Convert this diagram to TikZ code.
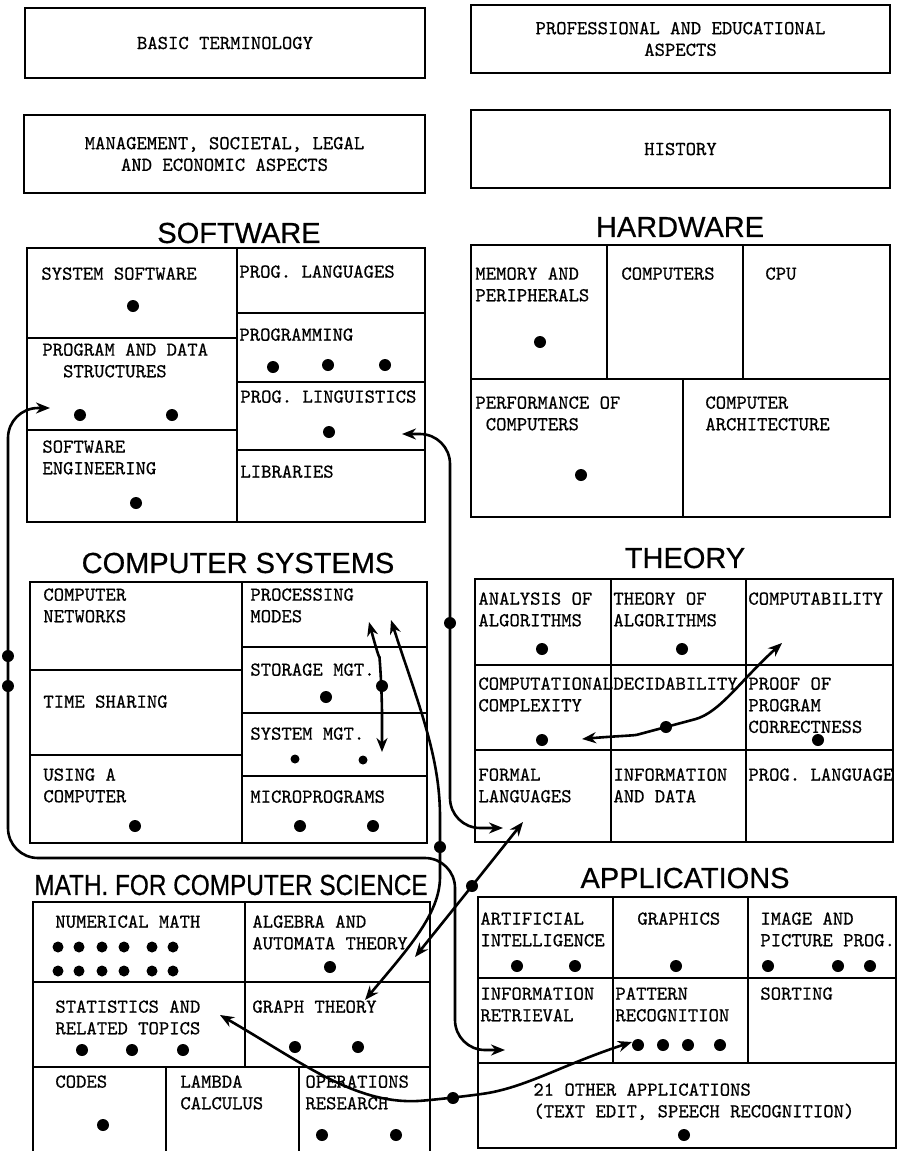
\documentclass[tikz,border=0pt]{standalone}
\usepackage{fontspec}
\usetikzlibrary{arrows.meta}
\setmonofont{Latin Modern Mono}[FakeBold=0.6]
\newfontfamily\headfont{Liberation Sans}[FakeBold=0.6]
\newfontfamily\headnarrow{Liberation Sans}[FakeBold=0.6,FakeStretch=0.84]

\begin{document}
\begin{tikzpicture}[
	x = 0.5pt, y = 0.5pt, % one unit is one pixel of the scan
	> = {Stealth[length=7pt, width=5.5pt]}, % arrow head style
	frame/.style={line width=1.1pt},
	txt/.style={anchor=north west, inner sep=0pt, align=left, font=\ttfamily\fontsize{9.86}{10.8}\selectfont},
	head/.style={inner sep=0pt, font=\headfont\fontsize{14.5}{17}\selectfont},
	topbox/.style={draw, line width=1.1pt, inner sep=0pt, align=center, font=\ttfamily\fontsize{9.86}{10.8}\selectfont},
	link/.style={<->, line width=1.3pt, rounded corners=15pt},
	]
	\useasboundingbox (0,0) rectangle (902,-1151);

	% Boxes on top
	\node[topbox, minimum width=200pt,   minimum height=35pt] (basic) at (225,-43)    {BASIC TERMINOLOGY};
	\node[topbox, minimum width=209.5pt, minimum height=34pt] (prof)  at (680.5,-39)  {PROFESSIONAL AND EDUCATIONAL\\ASPECTS};
	\node[topbox, minimum width=200.5pt, minimum height=39pt] (mgmt)  at (224.5,-154) {MANAGEMENT, SOCIETAL, LEGAL\\AND ECONOMIC ASPECTS};
	\node[topbox, minimum width=209.5pt, minimum height=39pt] (hist)  at (680.5,-149) {HISTORY};

	% Titles
	\node[head] (tsw)  at (239,-233) {SOFTWARE};
	\node[head] (thw)  at (680,-227) {HARDWARE};
	\node[head] (tcs)  at (238,-563) {COMPUTER SYSTEMS};
	\node[head] (tth)  at (685,-558) {THEORY};
	\node[head, font=\headnarrow\fontsize{14.5}{17}\selectfont] (tmath) at (231,-885) {MATH. FOR COMPUTER SCIENCE};
	\node[head] (tapp) at (685,-878) {APPLICATIONS};

	% Grids
	\draw[frame] (27,-248) rectangle (425,-522)
		(237,-248) -- (237,-522)
		(27,-338) -- (237,-338) (27,-430) -- (237,-430)
		(237,-313) -- (425,-313) (237,-382) -- (425,-382) (237,-450) -- (425,-450);
	\draw[frame] (471,-245) rectangle (890,-517)
		(471,-379) -- (890,-379)
		(607,-245) -- (607,-379) (743,-245) -- (743,-379) (683,-379) -- (683,-517);
	\draw[frame] (30,-582) rectangle (427,-843)
		(242,-582) -- (242,-843)
		(30,-670) -- (242,-670) (30,-755) -- (242,-755)
		(242,-647) -- (427,-647) (242,-713) -- (427,-713) (242,-776) -- (427,-776);
	\draw[frame] (475,-579) rectangle (893,-842)
		(611,-579) -- (611,-842) (746,-579) -- (746,-842)
		(475,-665) -- (893,-665) (475,-750) -- (893,-750);
	\draw[frame] (33,-1151) -- (33,-902) -- (430,-902) -- (430,-1151)
		(245,-902) -- (245,-1067)
		(33,-982) -- (430,-982) (33,-1067) -- (430,-1067)
		(166,-1067) -- (166,-1151) (299,-1067) -- (299,-1151);
	\draw[frame] (478,-897) rectangle (896,-1148)
		(613,-897) -- (613,-1063) (748,-897) -- (748,-1063)
		(478,-978) -- (896,-978) (478,-1063) -- (896,-1063);

	% Cell texts
	\node[txt] (sysw)  at (41,-267)  {SYSTEM SOFTWARE};
	\node[txt] (pds)   at (42,-343)  {PROGRAM AND DATA\\\phantom{PR}STRUCTURES};
	\node[txt] (swe)   at (42,-440)  {SOFTWARE\\ENGINEERING};
	\node[txt] (plang) at (239,-265) {PROG. LANGUAGES};
	\node[txt] (prog)  at (239,-328) {PROGRAMMING};
	\node[txt] (pling) at (240,-390) {PROG. LINGUISTICS};
	\node[txt] (lib)   at (240,-465) {LIBRARIES};

	\node[txt] (mem)   at (475,-267) {MEMORY AND\\PERIPHERALS};
	\node[txt] (comp)  at (621,-267) {COMPUTERS};
	\node[txt] (cpu)   at (765,-267) {CPU};
	\node[txt] (perf)  at (475,-396) {PERFORMANCE OF\\\phantom{P}COMPUTERS};
	\node[txt] (arch)  at (705,-396) {COMPUTER\\ARCHITECTURE};

	\node[txt] (net)   at (43,-588)  {COMPUTER\\NETWORKS};
	\node[txt] (tsh)   at (43,-695)  {TIME SHARING};
	\node[txt] (use)   at (43,-768)  {USING A\\COMPUTER};
	\node[txt] (pmod)  at (250,-588) {PROCESSING\\MODES};
	\node[txt] (stor)  at (250,-663) {STORAGE MGT.};
	\node[txt] (sysm)  at (250,-727) {SYSTEM MGT.};
	\node[txt] (micro) at (250,-790) {MICROPROGRAMS};

	\node[txt] (ana)   at (478,-592) {ANALYSIS OF\\ALGORITHMS};
	\node[txt] (toa)   at (613,-592) {THEORY OF\\ALGORITHMS};
	\node[txt] (cbl)   at (748,-592) {COMPUTABILITY};
	\node[txt] (ccx)   at (478,-677) {COMPUTATIONAL\\COMPLEXITY};
	\node[txt] (dec)   at (613,-677) {DECIDABILITY};
	\node[txt] (proof) at (748,-677) {PROOF OF\\PROGRAM\\CORRECTNESS};
	\node[txt] (flang) at (478,-768) {FORMAL\\LANGUAGES};
	\node[txt] (info)  at (613,-768) {INFORMATION\\AND DATA};
	\node[txt] (plg)   at (748,-768) {PROG. LANGUAGE};

	\node[txt] (num)   at (55,-915)   {NUMERICAL MATH};
	\node[txt] (alg)   at (252,-915)  {ALGEBRA AND\\AUTOMATA THEORY};
	\node[txt] (stat)  at (55,-1000)  {STATISTICS AND\\RELATED TOPICS};
	\node[txt] (graph) at (252,-1000) {GRAPH THEORY};
	\node[txt] (codes) at (55,-1075)  {CODES};
	\node[txt] (lam)   at (180,-1075) {LAMBDA\\CALCULUS};
	\node[txt] (opr)   at (305,-1075) {OPERATIONS\\RESEARCH};

	\node[txt] (ai)    at (480,-912)  {ARTIFICIAL\\INTELLIGENCE};
	\node[txt] (gfx)   at (637,-912)  {GRAPHICS};
	\node[txt] (img)   at (760,-912)  {IMAGE AND\\PICTURE PROG.};
	\node[txt] (ir)    at (480,-987)  {INFORMATION\\RETRIEVAL};
	\node[txt] (pat)   at (615,-987)  {PATTERN\\RECOGNITION};
	\node[txt] (sort)  at (760,-987)  {SORTING};
	\node[txt] (other) at (533,-1083) {21 OTHER APPLICATIONS\\(TEXT EDIT, SPEECH RECOGNITION)};

	% Dots
	\foreach \x/\y in {133/306, 80/415, 172/415, 273/367, 328/365, 385/365, 329/432, 136/503,
		540/342, 581/475, 135/826, 326/697, 300/826, 373/826,
		542/649, 682/649, 542/740, 818/740,
		330/967, 82/1050, 132/1050, 183/1050, 295/1047, 358/1047, 103/1125, 322/1135, 396/1135,
		517/966, 575/966, 676/966, 768/966, 838/966, 870/966,
		638/1045, 663/1045, 688/1045, 720/1045, 684/1135}
		\fill (\x,-\y) circle (6);
	\foreach \x in {58,79,102,124,152,173}
		\foreach \y in {947,971}
			\fill (\x,-\y) circle (5.5);
	\fill (295,-759) circle (4.5) (363,-760) circle (4.5);

	% Ends and joints of the links
	\coordinate (pling-in) at (402,-434);
	\coordinate (c1m)      at (450,-623);
	\coordinate (flang-a)  at (503,-828);
	\coordinate (pmod-a)   at (369,-622);
	\coordinate (c2m)      at (382,-686);
	\coordinate (sysm-in)  at (382,-752);
	\coordinate (pmod-b)   at (391,-620);
	\coordinate (c3m)      at (440,-847);
	\coordinate (graph-in) at (365,-1000);
	\coordinate (pds-in)   at (50,-408);
	\coordinate (c4d1)     at (8,-656);
	\coordinate (c4d2)     at (8,-686);
	\coordinate (c4k)      at (455,-858);
	\coordinate (ir-in)    at (505,-1050);
	\coordinate (alg-in)   at (415,-957);
	\coordinate (c5m)      at (472,-886);
	\coordinate (flang-b)  at (523,-822);
	\coordinate (ccx-in)   at (582,-739);
	\coordinate (c6m)      at (666,-727);
	\coordinate (cbl-in)   at (782,-643);
	\coordinate (stat-in)  at (220,-1015);
	\coordinate (c7m)      at (453,-1098);
	\coordinate (pat-in)   at (632,-1042);

	% Paths connecting topics
	\draw[link] (pling-in) -| (c1m) |- (flang-a);
	\draw[link] (pmod-a) to[out=-75, in=95] (c2m) -- (sysm-in);
	\draw[link] (pmod-b) to[out=-72, in=90] (c3m) to[out=-90, in=50] (graph-in);
	\draw[link] (pds-in) -| (c4d1) -- (c4d2) |- (c4k) |- (ir-in);
	\draw[link] (alg-in) -- (c5m) -- (flang-b);
	\draw[link] (ccx-in) to[out=5, in=195] (c6m) to[out=15, in=222] (cbl-in);
	\draw[link] (stat-in) to[out=-30, in=185] (c7m) to[out=8, in=198] (pat-in);
	\foreach \m in {c1m, c2m, c3m, c4d1, c4d2, c5m, c6m, c7m}
		\fill (\m) circle (6);

\end{tikzpicture}
\end{document}
